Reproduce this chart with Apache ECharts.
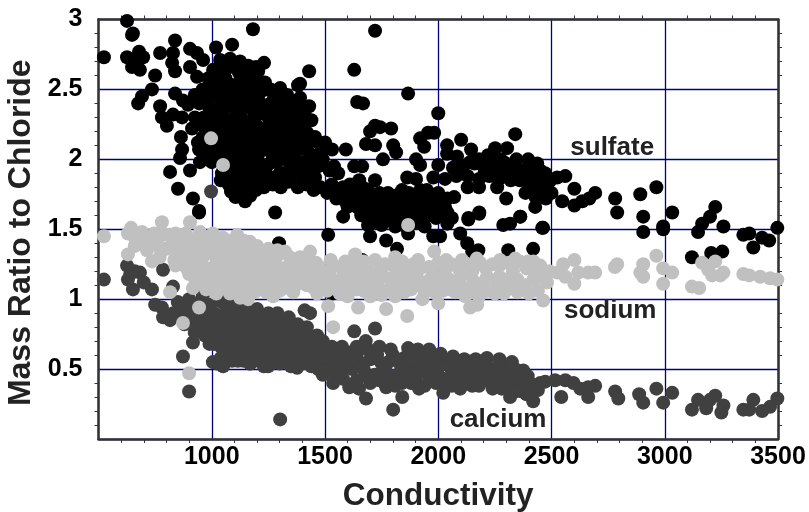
<!DOCTYPE html>
<html><head><meta charset="utf-8">
<script src="https://cdn.jsdelivr.net/npm/echarts@6/dist/echarts.min.js"></script>
<style>html,body{margin:0;padding:0;background:#fff}#c{width:809px;height:512px}</style>
</head><body><div id="c"></div>
<script>
const xTitle = 'Conductivity';
const yTitle = 'Mass Ratio to Chloride';
const sulfate = [
[626,2.99],[652,2.9],[648,2.89],[524,2.73],[838,2.85],[1019,2.8],[1090,2.82],[1182,2.93],[626,2.73],[679,2.77],[652,2.71],[648,2.66],[683,2.64],[697,2.73],[772,2.76],[829,2.76],[825,2.69],[838,2.63],[904,2.79],[935,2.76],[962,2.71],[904,2.66],[935,2.59],[750,2.6],[736,2.5],[692,2.45],[675,2.4],[772,2.38],[780,2.3],[802,2.24],[829,2.32],[869,2.3],[913,2.22],[926,2.3],[838,2.47],[873,2.42],[895,2.39],[864,2.16],[869,2.07],[860,2.01],[939,2.12],[944,2.07],[816,1.91],[904,1.92],[948,1.98],[851,1.79],[917,1.72],[944,1.63],[1280,1.62],[1147,1.7],[1105,1.73],[1075,1.82],
[1161,2.67],[1231,2.69],[1081,2.72],[1037,2.71],[1006,2.64],[1381,2.53],[1302,2.51],[1333,2.46],[1289,2.46],[1235,2.55],[1120,2.62],[1190,2.6],[1060,2.58],[1010,2.52],[960,2.5],[925,2.46],[975,2.42],[1025,2.45],[1090,2.5],[1150,2.52],[1210,2.47],[1260,2.4],[1310,2.36],[1355,2.3],[1408,2.33],[1368,2.32],[1300,2.27],[1250,2.3],[1190,2.38],[1130,2.42],[1070,2.38],[1010,2.36],[965,2.3],[1000,2.24],[1055,2.28],[1110,2.32],[1170,2.27],[1225,2.22],[1280,2.18],[1340,2.2],[1395,2.16],[1456,2.16],[1421,2.19],[1370,2.1],[1310,2.1],[1255,2.13],[1195,2.16],[1135,2.2],[1080,2.18],[1025,2.14],[985,2.08],[1040,2.05],[1095,2.08],[1155,2.07],[1210,2.05],[1270,2.02],[1330,2.0],[1000,1.98],[1060,1.96],[1115,1.98],[1175,1.95],[1235,1.93],[1090,1.88],[1135,1.85],[1190,1.84],[1100,1.8],[1145,1.77],[1230,1.8],[1270,1.82],[1300,1.9],
[1100,2.66],[1145,2.6],[1205,2.63],[1040,2.62],[985,2.58],[1075,2.54],[1120,2.55],[1180,2.5],[1240,2.5],[1275,2.44],[1040,2.5],[1000,2.46],[1060,2.44],[1110,2.46],[1160,2.44],[1215,2.4],[1045,2.4],[1095,2.4],[1150,2.37],[1220,2.33],[1280,2.33],[1330,2.3],[1030,2.3],[1085,2.28],[1140,2.28],[1195,2.25],[1250,2.22],[1310,2.22],[1375,2.24],[975,2.24],[1030,2.22],[1105,2.24],[1160,2.2],[1055,2.17],[1110,2.15],[1170,2.12],[1225,2.14],[1285,2.1],[1340,2.12],[1010,2.1],[1065,2.1],[1125,2.1],[1185,2.08],[1240,2.07],[1300,2.05],[1030,2.0],[1085,2.02],[1140,2.03],[1205,1.99],[1255,1.97],[1105,1.93],[1155,1.9],[1210,1.9],[1045,1.9],[1120,1.88],[1165,1.82],[1215,1.84],[1250,1.88],[1120,1.75],[1170,1.74],[1085,1.77],
[1125,2.7],[1195,2.66],[1065,2.65],[1170,2.56],[1215,2.54],[1260,2.5],[1340,2.42],[1290,2.4],[1240,2.38],[1180,2.42],[1125,2.48],[1030,2.55],[985,2.5],[945,2.4],[990,2.36],[1050,2.34],[1130,2.34],[1190,2.32],[1270,2.26],[1330,2.25],[1400,2.26],[1000,2.3],[950,2.25],[1075,2.24],[1135,2.15],[1195,2.21],[1245,2.17],[1315,2.15],[1370,2.16],[1425,2.12],[1000,2.18],[960,2.16],[1035,2.18],[1085,2.13],[1210,2.1],[1260,2.08],[1345,2.06],[1400,2.08],[975,2.03],[1015,2.04],[1070,2.03],[1165,2.0],[1290,1.98],[1360,1.96],[1395,1.98],[1425,2.0],[1490,2.0],[1075,1.92],[1140,1.94],[1190,1.9],[1290,1.84],[1340,1.92],[1410,1.95],[1470,1.95],[1520,1.92],[1160,1.85],[1070,1.86],[1115,1.82],[1195,1.78],[1040,1.85],[1470,2.12],[1420,2.07],[1500,2.12],[1390,2.44],[1340,2.36],[1385,2.38],[1440,2.28],[1430,2.38],
[1721,2.92],[1430,2.63],[1390,2.54],[1629,2.64],[1867,2.47],[1642,2.41],[1668,2.4],[2000,2.33],[2340,2.18],[1721,2.24],[1699,2.2],[1792,2.22],[1743,2.23],[1681,2.11],[1721,2.1],[1801,2.1],[1814,2.05],[1920,2.15],[1955,2.19],[1982,2.19],[1938,2.09],[2039,2.1],[2101,2.14],[2145,2.07],[2039,2.04],[2083,2.02],[2251,2.08],[2304,2.08],[2220,2.03],[2275,2.0],[2397,2.0],[2437,1.97],[1531,2.07],[1592,2.07],[1491,2.07],[1447,2.03],[1368,2.01],[1756,2.0],[1902,2.0],[1920,1.96],[1629,1.95],[1664,1.95],[1540,1.95],[1558,1.9],[2000,1.96],[1978,1.87],[1863,1.87],[1902,1.86],[1651,1.85],[1721,1.85],[1377,1.9],[1456,1.87],[1346,1.87],[2065,1.94],
[2300,1.72],[2362,1.59],[2181,1.62],[2133,1.57],[2070,1.73],[2428,1.66],[1840,1.78],[1778,1.76],[1920,1.78],
[1420,1.82],[1480,1.8],[1530,1.82],[1580,1.8],[1620,1.76],[1550,1.72],[1590,1.7],[1660,1.74],[1700,1.72],[1740,1.7],[1790,1.68],[1840,1.7],[1880,1.72],[1930,1.7],[1970,1.72],[2010,1.68],[1640,1.66],[1680,1.62],[1720,1.6],[1770,1.6],[1820,1.62],[1870,1.62],[1920,1.62],[1960,1.62],[2010,1.6],[2040,1.62],[1710,1.55],[1850,1.56],[1900,1.55],
[1380,1.8],[1340,1.84],[1305,1.8],[1450,1.78],[1510,1.76],[1560,1.78],[1610,1.82],[1665,1.8],[1690,1.78],[1740,1.76],[1810,1.74],[1870,1.76],[1950,1.78],[2000,1.76],[2040,1.72],[1620,1.7],[1660,1.68],[1700,1.66],[1750,1.65],[1800,1.64],[1850,1.66],[1895,1.67],[1945,1.66],[1985,1.66],[2030,1.66],[1735,1.6],[1790,1.56],[1830,1.58],[1890,1.6],[1940,1.58],[1990,1.58],[2060,1.58],[1750,1.53],[1810,1.52],[1940,1.52],[2040,1.54],[1600,1.66],[1660,1.6],[1580,1.75],[1400,1.87],[1430,1.92],
[2110,1.95],[2160,1.97],[2200,1.95],[2250,1.96],[2300,1.93],[2340,1.95],[2380,1.92],[2420,1.88],[2460,1.86],[2130,1.88],[2180,1.86],[2225,1.88],[2270,1.86],[2320,1.85],[2360,1.85],[2400,1.83],[2440,1.8],[2480,1.8],[2385,1.76],[2430,1.73],[2475,1.72],[2080,1.88],[2030,1.86],[2130,1.8],[2180,1.8],[2260,1.8],
[2140,1.98],[2180,2.0],[2235,2.0],[2290,1.98],[2345,2.0],[2400,1.96],[2450,1.92],[2495,1.85],[2205,1.9],[2255,1.91],[2310,1.89],[2355,1.9],[2405,1.88],[2450,1.76],[2500,1.76],[2420,1.79],
[1514,1.46],[1580,1.59],[1690,1.53],[1699,1.45],[1751,1.57],[1770,1.42],[1818,1.36],[1845,1.53],[1867,1.47],[1978,1.45],[2008,1.45],[2097,1.47],[2128,1.4],[2150,1.34],[2177,1.35],[2133,1.58],[2181,1.61],[2287,1.53],[2317,1.54],[2362,1.59],[2459,1.51],[2419,1.36],[2309,1.35],[1664,1.28],[1531,1.04],[1297,1.4],[944,1.62],
[2472,1.9],[2525,1.87],[2561,1.88],[2601,1.79],[2547,1.7],[2601,1.67],[2636,1.7],[2667,1.72],[2693,1.76],[2781,1.72],[2790,1.62],[2892,1.75],[2963,1.8],[2905,1.59],[2905,1.48],[2993,1.52],[2993,1.5],[3033,1.62],[3223,1.66],[3200,1.59],[3165,1.54],[3147,1.48],[3259,1.52],[3120,1.3],[3205,1.33],[3254,1.34],[3347,1.46],[3373,1.47],[3391,1.37],[3430,1.44],[3461,1.42],[3497,1.51],[2463,1.51]
];
const calcium = [
[524,1.14],[626,1.24],[630,1.14],[652,1.07],[683,1.19],[736,1.07],[750,.96],[785,.87],[780,.94],[816,.85],[785,1.21],[829,1.09],[873,.59],[900,.34],[1302,.14],[917,.69],[1023,.54],[1050,.52],[1169,.54],[1249,.52],[1333,.83],[1377,.51],[997,1.77],[660,1.2],[700,1.12],[640,1.18],
[850,.98],[880,.92],[920,.96],[960,1.02],[1000,1.08],[1040,1.05],[860,.88],[905,.85],[950,.9],[995,.96],[1045,.98],[1090,.98],[1130,.95],[1180,.9],[1230,.88],[1280,.85],[940,.78],[985,.82],[1030,.88],[1075,.88],[1125,.86],[1170,.82],[1215,.8],[1265,.78],[1310,.76],[1355,.78],[1000,.74],[1050,.78],[1095,.76],[1145,.74],[1195,.72],[1245,.7],[1295,.68],[1345,.7],[1395,.7],[1040,.66],[1085,.68],[1130,.64],[1180,.62],[1230,.62],[1280,.6],[1330,.62],[1380,.6],[1430,.62],[1070,.58],[1115,.56],[1215,.56],[1300,.54],[1340,.55],[1420,.54],[1465,.56],[1434,.9],[1410,.92],[1629,.77],[1721,.79],[1867,.65],[1801,.21],[1681,.29],[1536,.4],[1607,.37],[1770,.37],[1841,.3],[2022,.33],[2419,.27],[2317,.3],[2097,.36],[1465,.74],[1403,.77],
[900,1.0],[970,.95],[1010,.9],[1065,.93],[1110,.91],[1155,.88],[1205,.85],[1255,.83],[1305,.81],[965,.86],[1005,.78],[1060,.83],[1105,.82],[1150,.8],[1195,.78],[1240,.76],[1285,.74],[1330,.74],[1380,.75],[1025,.72],[1070,.72],[1120,.7],[1170,.68],[1220,.66],[1270,.65],[1320,.66],[1370,.65],[1420,.68],[1060,.63],[1105,.62],[1155,.58],[1205,.6],[1255,.58],[1305,.6],[1360,.58],[1400,.62],[1450,.66],[1445,.6],[1090,.56],[1140,.56],[1190,.56],[1040,.58],[1005,.55],[1265,.54],[1385,.55],[1440,.52],
[860,.93],[830,.9],[900,.92],[925,.88],[880,.82],[950,.82],[925,.76],[970,.74],[1020,.82],[1065,1.0],[1100,.95],[1150,.92],[1200,.93],[1250,.9],[1290,.9],[1340,.87],[1380,.82],[1420,.8],[1440,.72],[1130,.78],[1175,.76],[1225,.72],[1265,.71],[1310,.7],[1360,.71],[1075,.64],[1125,.6],[1170,.54],[1230,.52],[1275,.58],[1350,.52],[1410,.58],[1470,.68],[1010,.68],[990,.68],[1085,.8],[1490,.7],
[1500,.62],[1545,.6],[1590,.56],[1640,.6],[1690,.64],[1730,.6],[1780,.55],[1830,.54],[1880,.6],[1930,.6],[1980,.58],[2030,.56],[2085,.56],[2140,.52],[2190,.54],[2240,.5],[2290,.52],[2340,.5],[2395,.45],[1520,.52],[1570,.48],[1620,.5],[1670,.5],[1720,.46],[1770,.48],[1820,.46],[1870,.5],[1920,.48],[1965,.5],[2010,.44],[2060,.46],[2110,.46],[2160,.44],[2210,.42],[2260,.4],[2310,.42],[2360,.38],[2410,.36],[2450,.4],[1490,.46],[1640,.42],[1700,.4],[1810,.38],[1880,.4],[1940,.38],[1990,.4],[2060,.38],[2150,.38],[2280,.36],[2340,.34],[2390,.32],[1870,.44],
[1470,.5],[1510,.58],[1555,.55],[1600,.62],[1650,.55],[1700,.57],[1750,.54],[1800,.6],[1850,.58],[1905,.55],[1955,.55],[2005,.52],[2050,.52],[2100,.52],[2150,.48],[2200,.48],[2250,.46],[2300,.47],[2350,.44],[2400,.41],[2440,.35],[1680,.45],[1740,.42],[1790,.42],[1840,.4],[1900,.44],[1960,.44],[2025,.42],[2085,.42],[2120,.4],[2180,.38],[2240,.36],[2310,.36],[2370,.34],[1580,.43],[1540,.47],[1650,.36],[1915,.36],[1460,.62],[1530,.66],[1575,.66],[1680,.7],[1740,.66],[1910,.64],[1960,.64],[2010,.61],[2065,.59],[2115,.57],[2165,.57],[2215,.58],[2270,.57],[2325,.55],[2375,.49],[1485,.58],[1640,.66],[1790,.64],
[2472,.41],[2516,.42],[2561,.42],[2597,.4],[2693,.38],[2662,.37],[2662,.3],[2543,.3],[2627,.36],[2781,.34],[2795,.29],[2887,.32],[2905,.26],[2963,.36],[2993,.26],[3033,.33],[3120,.21],[3147,.28],[3183,.22],[3223,.31],[3200,.28],[3259,.24],[3250,.19],[3347,.21],[3373,.21],[3391,.28],[3430,.2],[3465,.23],[3497,.29]
];
const sodium = [
[524,1.45],[630,1.47],[644,1.51],[692,1.48],[683,1.4],[630,1.32],[780,1.55],[904,1.55],[948,1.48],[1005,1.47],[1112,1.46],[1169,1.41],[1227,1.34],[736,1.27],[714,1.35],[758,1.4],[816,1.46],[860,1.42],[816,1.05],[944,.94],[873,.83],[900,.47],[1125,1.01],[1160,1.0],[917,1.08],[1271,1.02],[1324,1.34],[997,2.15],[1050,1.96],
[800,1.36],[850,1.34],[890,1.4],[930,1.38],[975,1.42],[1030,1.4],[1075,1.38],[1130,1.36],[1180,1.33],[870,1.25],[915,1.28],[960,1.3],[1010,1.32],[1055,1.3],[1105,1.27],[1160,1.25],[1210,1.24],[1265,1.26],[1310,1.22],[900,1.18],[945,1.2],[995,1.22],[1045,1.2],[1095,1.18],[1150,1.15],[1200,1.17],[1250,1.16],[1300,1.14],[1350,1.18],[950,1.12],[1000,1.1],[1050,1.12],[1100,1.08],[1150,1.07],[1210,1.09],[1270,1.08],[1320,1.08],[1370,1.1],
[770,1.3],[835,1.28],[880,1.33],[925,1.22],[975,1.36],[1020,1.26],[1075,1.24],[1125,1.22],[1180,1.2],[1235,1.21],[1285,1.2],[1340,1.24],[1390,1.2],[925,1.15],[975,1.16],[1025,1.14],[1075,1.14],[1125,1.12],[1175,1.1],[1230,1.12],[1285,1.12],[1340,1.12],[1045,1.36],[1095,1.33],[1140,1.3],[1190,1.28],[1240,1.29],[1285,1.3],[1035,1.08],[1075,1.07],[1240,1.05],[1300,1.06],[975,1.07],[820,1.38],
[840,1.24],[890,1.22],[910,1.33],[945,1.34],[990,1.37],[1050,1.44],[1090,1.42],[1140,1.42],[1200,1.38],[1250,1.36],[1290,1.35],[1345,1.3],[1390,1.3],[960,1.44],[1010,1.42],[925,1.43],[885,1.47],[840,1.47],[785,1.46],[745,1.47],[710,1.42],[660,1.44],[660,1.38],[770,1.37],[1000,1.17],[1050,1.16],[1100,1.13],[1190,1.14],[1260,1.21],[1320,1.17],[1380,1.15],[955,1.24],[1110,1.22],[1160,1.3],[1205,1.32],[1060,1.26],[1010,1.2],[1360,1.05],[1190,1.05],[1080,1.04],[1020,1.04],
[1514,.95],[1536,.8],[1646,.94],[1770,.93],[1863,.88],[2000,.97],[2141,.94],[2172,.96],[2463,.99],[1867,1.53],[1982,1.34],[1434,1.34],[1633,1.32],[1721,1.28],[1810,1.3],[1911,1.28],[2105,1.28],[2273,1.28],[2397,1.27],
[1380,1.26],[1430,1.22],[1480,1.18],[1530,1.14],[1580,1.2],[1640,1.24],[1690,1.2],[1745,1.22],[1800,1.24],[1860,1.2],[1920,1.22],[1975,1.18],[2030,1.2],[2090,1.22],[2150,1.2],[2210,1.22],[2270,1.24],[2330,1.2],[2390,1.22],[2440,1.18],[1400,1.12],[1450,1.08],[1510,1.06],[1565,1.04],[1620,1.1],[1670,1.06],[1730,1.1],[1790,1.08],[1850,1.05],[1910,1.1],[1965,1.08],[2020,1.06],[2080,1.1],[2140,1.05],[2200,1.12],[2260,1.1],[2320,1.08],[2385,1.1],[2440,1.06],[1600,1.02],[1700,1.02],[1810,1.02],[1930,1.0],[2120,1.02],[2180,1.02],[2300,1.14],[2400,1.04],
[1420,1.28],[1460,1.26],[1430,1.16],[1475,1.12],[1520,1.2],[1560,1.13],[1610,1.16],[1660,1.15],[1705,1.14],[1760,1.16],[1810,1.17],[1860,1.13],[1905,1.16],[1955,1.13],[2000,1.14],[2050,1.14],[2100,1.16],[2155,1.13],[2215,1.16],[2270,1.16],[2350,1.14],[2420,1.14],[2470,1.14],[1500,1.11],[1640,1.07],[1760,1.06],[1880,1.07],[1990,1.04],[2050,1.07],[2110,1.08],[2170,1.07],[2230,1.06],[2290,1.04],[2350,1.05],[2420,1.2],[1595,1.08],[1540,1.24],[1590,1.27],[1670,1.27],[1765,1.25],[1840,1.27],[1960,1.23],[2060,1.25],[2130,1.25],[2185,1.26],[2240,1.25],[2310,1.26],[2360,1.27],[2450,1.24],
[1420,1.1],[1465,1.04],[1545,1.08],[1700,1.07],[1750,1.03],[1830,1.09],[1870,1.17],[1940,1.05],[2015,1.1],[2075,1.05],[2250,1.04],[2330,1.13],[2200,1.05],[1660,1.21],[1600,1.23],[1730,1.17],[1790,1.14],[1825,1.21],[1890,1.25],[2000,1.26],[2035,1.28],[2170,1.29],[2340,1.29],[2420,1.27],[1475,1.23],[1525,1.28],
[2601,1.28],[2790,1.25],[2780,1.23],[2905,1.25],[2892,1.19],[2905,1.16],[2963,1.31],[2993,1.22],[3033,1.19],[2993,1.11],[3120,1.09],[3152,1.08],[3165,1.26],[3192,1.21],[3223,1.27],[3209,1.17],[3259,1.19],[3245,1.17],[3347,1.18],[3373,1.17],[3421,1.16],[3465,1.15],[3497,1.14],[2693,1.19],[2662,1.19],[2618,1.19],[2601,1.11],[2552,1.25],[2561,1.16],[2525,1.19],[2490,1.2],[2480,1.12]
];
const speciesLabels = [
['sulfate',2768,2.08],['sodium',2759,0.92],['calcium',2264,0.14]
];
const chart = echarts.init(document.getElementById('c'), null, {renderer:'canvas'});
const FONT = '"Liberation Sans", Arial, sans-serif';
const frame = {show:true, onZero:false, lineStyle:{color:'#333', width:2.5}};
const tick = {show:false};
const minor = {show:true, splitNumber:5, length:4, lineStyle:{color:'#333', width:1}};
const grid = {show:true, lineStyle:{color:'#000080', width:1.3}};
function pts(name, data, color){
  return {name, type:'scatter', xAxisIndex:0, yAxisIndex:0, data, symbol:'circle', symbolSize:14,
    itemStyle:{color, opacity:1}, silent:true, clip:true, animation:false, large:false};
}
chart.setOption({
  animation:false,
  backgroundColor:'#fff',
  grid:{left:98.5, right:31, top:19.5, bottom:73, containLabel:false, outerBoundsMode:'none'},
  xAxis:[
    {type:'value', min:500, max:3500, interval:500, position:'bottom', name:xTitle, nameLocation:'middle', nameGap:41,
     nameTextStyle:{fontFamily:FONT, fontWeight:'bold', fontSize:31.5, color:'#222'},
     axisLine:frame, axisTick:tick, minorTick:minor, splitLine:grid, minorSplitLine:{show:false},
     axisLabel:{fontFamily:FONT, fontWeight:'bold', fontSize:25, color:'#000', margin:6, showMinLabel:false, showMaxLabel:true, formatter:v=>String(v)}},
    {type:'value', min:500, max:3500, interval:500, position:'top', axisLine:frame, axisTick:tick, minorTick:minor, splitLine:{show:false}, axisLabel:{show:false}}
  ],
  yAxis:[
    {type:'value', min:0, max:3, interval:0.5, position:'left', name:yTitle, nameLocation:'middle', nameGap:57, nameRotate:90,
     nameTextStyle:{fontFamily:FONT, fontWeight:'bold', fontSize:32, color:'#222', padding:[0,7,0,0]},
     axisLine:frame, axisTick:tick, minorTick:minor, splitLine:grid,
     axisLabel:{fontFamily:FONT, fontWeight:'bold', fontSize:25, color:'#000', margin:16, showMinLabel:false, showMaxLabel:true}},
    {type:'value', min:0, max:3, interval:0.5, position:'right', axisLine:frame, axisTick:tick, minorTick:minor, splitLine:{show:false}, axisLabel:{show:false}}
  ],
  series:[
    pts('sulfate', sulfate, '#000000'),
    pts('calcium', calcium, '#404040'),
    pts('sodium', sodium, '#c0c0c0'),
    {type:'scatter', xAxisIndex:0, yAxisIndex:0, silent:true, symbolSize:0, animation:false, z:5,
     itemStyle:{opacity:1},
     data:speciesLabels.map(l=>({name:l[0], value:[l[1],l[2]]})),
     label:{show:true, position:'inside', formatter:p=>p.name, fontFamily:FONT, fontWeight:'bold', fontSize:26, color:'#222', align:'center', verticalAlign:'middle'}}
  ]
});
</script></body></html>
